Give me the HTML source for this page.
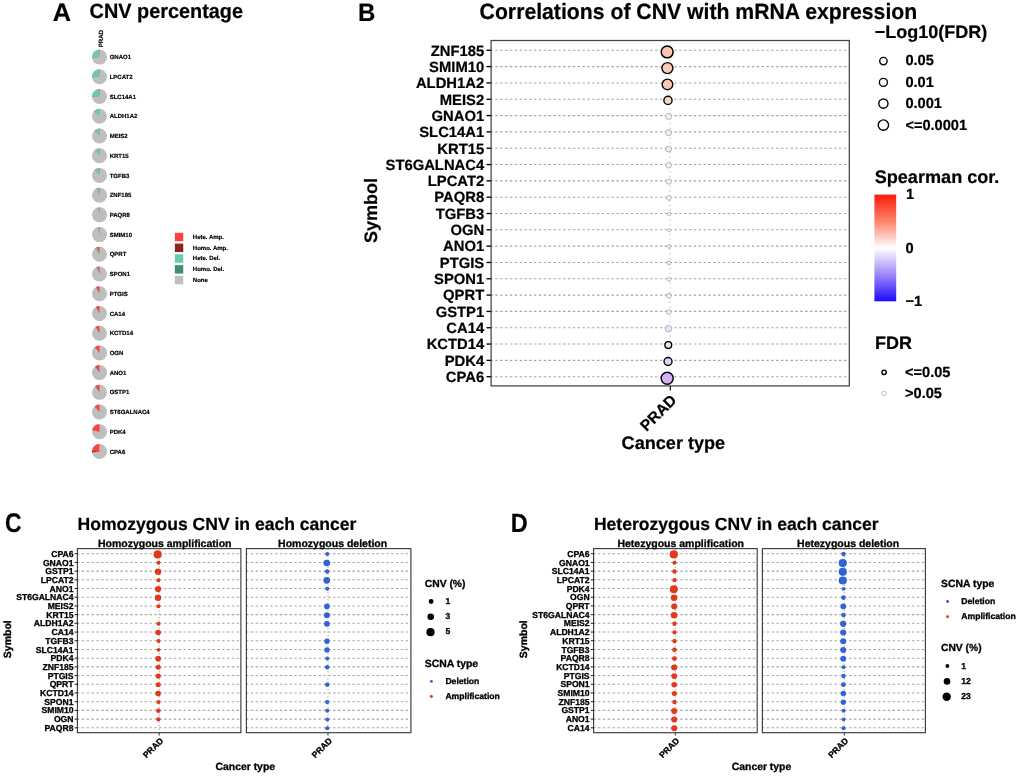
<!DOCTYPE html>
<html><head><meta charset="utf-8"><title>CNV figure</title>
<style>
html,body{margin:0;padding:0;background:#fff;}
body{width:1020px;height:777px;overflow:hidden;}
svg{display:block;font-family:'Liberation Sans', Arial, Helvetica, sans-serif;}
</style></head><body>
<svg width="1020" height="777" viewBox="0 0 1020 777" text-rendering="geometricPrecision" font-family="'Liberation Sans', Arial, Helvetica, sans-serif">
<rect width="1020" height="777" fill="#fff"/>
<text transform="translate(52.7 21.3) scale(1.0 1)" x="0" y="0" font-size="25.3" font-weight="bold" fill="#000" stroke="#000" stroke-width="0.2">A</text>
<text transform="translate(89.6 18.1) scale(0.964 1)" font-size="20.6" text-anchor="start" fill="#000" font-weight="bold" stroke="#000" stroke-width="0.22">CNV percentage</text>
<text x="103.2" y="47.3" font-size="6.1" text-anchor="start" fill="#000" font-weight="bold" transform="rotate(-90 103.2 47.3)" stroke="#000" stroke-width="0.18">PRAD</text>
<circle cx="99.5" cy="57.10" r="7.5" fill="#bebebe"/>
<path d="M99.50,57.10L99.50,49.60A7.5,7.5 0 0 0 98.65,49.65Z" fill="#ff4040"/>
<path d="M99.50,57.10L98.65,49.65A7.5,7.5 0 0 0 92.00,57.01Z" fill="#66cdaa"/>
<path d="M99.50,57.10L92.00,57.01A7.5,7.5 0 0 0 92.01,57.57Z" fill="#458b74"/>
<text x="109.7" y="59.25" font-size="6.0" text-anchor="start" fill="#000" font-weight="bold" stroke="#000" stroke-width="0.18">GNAO1</text>
<circle cx="99.5" cy="76.82" r="7.5" fill="#bebebe"/>
<path d="M99.50,76.82L99.50,69.32A7.5,7.5 0 0 0 98.65,69.37Z" fill="#ff4040"/>
<path d="M99.50,76.82L98.65,69.37A7.5,7.5 0 0 0 92.00,76.63Z" fill="#66cdaa"/>
<path d="M99.50,76.82L92.00,76.63A7.5,7.5 0 0 0 92.01,77.20Z" fill="#458b74"/>
<text x="109.7" y="78.97" font-size="6.0" text-anchor="start" fill="#000" font-weight="bold" stroke="#000" stroke-width="0.18">LPCAT2</text>
<circle cx="99.5" cy="96.54" r="7.5" fill="#bebebe"/>
<path d="M99.50,96.54L99.50,89.04A7.5,7.5 0 0 0 98.56,89.10Z" fill="#ff4040"/>
<path d="M99.50,96.54L98.56,89.10A7.5,7.5 0 0 0 92.01,96.07Z" fill="#66cdaa"/>
<path d="M99.50,96.54L92.01,96.07A7.5,7.5 0 0 0 92.00,96.40Z" fill="#458b74"/>
<text x="109.7" y="98.69" font-size="6.0" text-anchor="start" fill="#000" font-weight="bold" stroke="#000" stroke-width="0.18">SLC14A1</text>
<circle cx="99.5" cy="116.26" r="7.5" fill="#bebebe"/>
<path d="M99.50,116.26L99.50,108.76A7.5,7.5 0 0 0 99.03,108.77Z" fill="#ff4040"/>
<path d="M99.50,116.26L99.03,108.77A7.5,7.5 0 0 0 94.37,110.79Z" fill="#66cdaa"/>
<path d="M99.50,116.26L94.37,110.79A7.5,7.5 0 0 0 94.20,110.96Z" fill="#458b74"/>
<text x="109.7" y="118.41" font-size="6.0" text-anchor="start" fill="#000" font-weight="bold" stroke="#000" stroke-width="0.18">ALDH1A2</text>
<circle cx="99.5" cy="135.98" r="7.5" fill="#bebebe"/>
<path d="M99.50,135.98L99.50,128.48A7.5,7.5 0 0 0 98.94,128.50Z" fill="#ff4040"/>
<path d="M99.50,135.98L98.94,128.50A7.5,7.5 0 0 0 94.47,130.42Z" fill="#66cdaa"/>
<path d="M99.50,135.98L94.47,130.42A7.5,7.5 0 0 0 94.30,130.58Z" fill="#458b74"/>
<text x="109.7" y="138.13" font-size="6.0" text-anchor="start" fill="#000" font-weight="bold" stroke="#000" stroke-width="0.18">MEIS2</text>
<circle cx="99.5" cy="155.70" r="7.5" fill="#bebebe"/>
<path d="M99.50,155.70L99.50,148.20A7.5,7.5 0 0 0 98.79,148.23Z" fill="#ff4040"/>
<path d="M99.50,155.70L98.79,148.23A7.5,7.5 0 0 0 95.09,149.63Z" fill="#66cdaa"/>
<path d="M99.50,155.70L95.09,149.63A7.5,7.5 0 0 0 94.90,149.77Z" fill="#458b74"/>
<text x="109.7" y="157.85" font-size="6.0" text-anchor="start" fill="#000" font-weight="bold" stroke="#000" stroke-width="0.18">KRT15</text>
<circle cx="99.5" cy="175.42" r="7.5" fill="#bebebe"/>
<path d="M99.50,175.42L99.50,167.92A7.5,7.5 0 0 0 98.79,167.95Z" fill="#ff4040"/>
<path d="M99.50,175.42L98.79,167.95A7.5,7.5 0 0 0 95.09,169.35Z" fill="#66cdaa"/>
<path d="M99.50,175.42L95.09,169.35A7.5,7.5 0 0 0 94.94,169.47Z" fill="#458b74"/>
<text x="109.7" y="177.57" font-size="6.0" text-anchor="start" fill="#000" font-weight="bold" stroke="#000" stroke-width="0.18">TGFB3</text>
<circle cx="99.5" cy="195.14" r="7.5" fill="#bebebe"/>
<path d="M99.50,195.14L99.50,187.64A7.5,7.5 0 0 0 98.79,187.67Z" fill="#ff4040"/>
<path d="M99.50,195.14L98.79,187.67A7.5,7.5 0 0 0 96.31,188.35Z" fill="#66cdaa"/>
<path d="M99.50,195.14L96.31,188.35A7.5,7.5 0 0 0 96.18,188.42Z" fill="#458b74"/>
<text x="109.7" y="197.29" font-size="6.0" text-anchor="start" fill="#000" font-weight="bold" stroke="#000" stroke-width="0.18">ZNF185</text>
<circle cx="99.5" cy="214.86" r="7.5" fill="#bebebe"/>
<path d="M99.50,214.86L99.50,207.36A7.5,7.5 0 0 0 98.79,207.39Z" fill="#ff4040"/>
<path d="M99.50,214.86L98.79,207.39A7.5,7.5 0 0 0 97.18,207.73Z" fill="#66cdaa"/>
<text x="109.7" y="217.01" font-size="6.0" text-anchor="start" fill="#000" font-weight="bold" stroke="#000" stroke-width="0.18">PAQR8</text>
<circle cx="99.5" cy="234.58" r="7.5" fill="#bebebe"/>
<path d="M99.50,234.58L99.50,227.08A7.5,7.5 0 0 0 98.56,227.14Z" fill="#ff4040"/>
<path d="M99.50,234.58L98.56,227.14A7.5,7.5 0 0 0 97.18,227.45Z" fill="#66cdaa"/>
<path d="M99.50,234.58L97.18,227.45A7.5,7.5 0 0 0 97.09,227.48Z" fill="#458b74"/>
<text x="109.7" y="236.73" font-size="6.0" text-anchor="start" fill="#000" font-weight="bold" stroke="#000" stroke-width="0.18">SMIM10</text>
<circle cx="99.5" cy="254.30" r="7.5" fill="#bebebe"/>
<path d="M99.50,254.30L99.50,246.80A7.5,7.5 0 0 0 96.74,247.33Z" fill="#ff4040"/>
<path d="M99.50,254.30L96.74,247.33A7.5,7.5 0 0 0 96.61,247.38Z" fill="#8b2323"/>
<path d="M99.50,254.30L96.61,247.38A7.5,7.5 0 0 0 94.79,248.46Z" fill="#66cdaa"/>
<path d="M99.50,254.30L94.79,248.46A7.5,7.5 0 0 0 94.68,248.55Z" fill="#458b74"/>
<text x="109.7" y="256.45" font-size="6.0" text-anchor="start" fill="#000" font-weight="bold" stroke="#000" stroke-width="0.18">QPRT</text>
<circle cx="99.5" cy="274.02" r="7.5" fill="#bebebe"/>
<path d="M99.50,274.02L99.50,266.52A7.5,7.5 0 0 0 97.27,266.86Z" fill="#ff4040"/>
<path d="M99.50,274.02L97.27,266.86A7.5,7.5 0 0 0 97.18,266.89Z" fill="#8b2323"/>
<path d="M99.50,274.02L97.18,266.89A7.5,7.5 0 0 0 96.10,267.34Z" fill="#66cdaa"/>
<path d="M99.50,274.02L96.10,267.34A7.5,7.5 0 0 0 96.01,267.38Z" fill="#458b74"/>
<text x="109.7" y="276.17" font-size="6.0" text-anchor="start" fill="#000" font-weight="bold" stroke="#000" stroke-width="0.18">SPON1</text>
<circle cx="99.5" cy="293.74" r="7.5" fill="#bebebe"/>
<path d="M99.50,293.74L99.50,286.24A7.5,7.5 0 0 0 96.31,286.95Z" fill="#ff4040"/>
<path d="M99.50,293.74L96.31,286.95A7.5,7.5 0 0 0 95.97,287.12Z" fill="#8b2323"/>
<path d="M99.50,293.74L95.97,287.12A7.5,7.5 0 0 0 95.56,287.36Z" fill="#66cdaa"/>
<text x="109.7" y="295.89" font-size="6.0" text-anchor="start" fill="#000" font-weight="bold" stroke="#000" stroke-width="0.18">PTGIS</text>
<circle cx="99.5" cy="313.46" r="7.5" fill="#bebebe"/>
<path d="M99.50,313.46L99.50,305.96A7.5,7.5 0 0 0 96.10,306.78Z" fill="#ff4040"/>
<path d="M99.50,313.46L96.10,306.78A7.5,7.5 0 0 0 95.76,306.96Z" fill="#8b2323"/>
<path d="M99.50,313.46L95.76,306.96A7.5,7.5 0 0 0 95.44,307.15Z" fill="#66cdaa"/>
<text x="109.7" y="315.61" font-size="6.0" text-anchor="start" fill="#000" font-weight="bold" stroke="#000" stroke-width="0.18">CA14</text>
<circle cx="99.5" cy="333.18" r="7.5" fill="#bebebe"/>
<path d="M99.50,333.18L99.50,325.68A7.5,7.5 0 0 0 95.80,326.65Z" fill="#ff4040"/>
<path d="M99.50,333.18L95.80,326.65A7.5,7.5 0 0 0 95.60,326.77Z" fill="#8b2323"/>
<path d="M99.50,333.18L95.60,326.77A7.5,7.5 0 0 0 95.28,326.98Z" fill="#66cdaa"/>
<text x="109.7" y="335.33" font-size="6.0" text-anchor="start" fill="#000" font-weight="bold" stroke="#000" stroke-width="0.18">KCTD14</text>
<circle cx="99.5" cy="352.90" r="7.5" fill="#bebebe"/>
<path d="M99.50,352.90L99.50,345.40A7.5,7.5 0 0 0 94.90,346.97Z" fill="#ff4040"/>
<path d="M99.50,352.90L94.90,346.97A7.5,7.5 0 0 0 94.76,347.09Z" fill="#8b2323"/>
<path d="M99.50,352.90L94.76,347.09A7.5,7.5 0 0 0 94.33,347.47Z" fill="#66cdaa"/>
<text x="109.7" y="355.05" font-size="6.0" text-anchor="start" fill="#000" font-weight="bold" stroke="#000" stroke-width="0.18">OGN</text>
<circle cx="99.5" cy="372.62" r="7.5" fill="#bebebe"/>
<path d="M99.50,372.62L99.50,365.12A7.5,7.5 0 0 0 95.97,366.00Z" fill="#ff4040"/>
<path d="M99.50,372.62L95.97,366.00A7.5,7.5 0 0 0 95.32,366.39Z" fill="#8b2323"/>
<path d="M99.50,372.62L95.32,366.39A7.5,7.5 0 0 0 95.17,366.50Z" fill="#66cdaa"/>
<text x="109.7" y="374.77" font-size="6.0" text-anchor="start" fill="#000" font-weight="bold" stroke="#000" stroke-width="0.18">ANO1</text>
<circle cx="99.5" cy="392.34" r="7.5" fill="#bebebe"/>
<path d="M99.50,392.34L99.50,384.84A7.5,7.5 0 0 0 95.97,385.72Z" fill="#ff4040"/>
<path d="M99.50,392.34L95.97,385.72A7.5,7.5 0 0 0 95.32,386.11Z" fill="#8b2323"/>
<path d="M99.50,392.34L95.32,386.11A7.5,7.5 0 0 0 95.17,386.22Z" fill="#66cdaa"/>
<text x="109.7" y="394.49" font-size="6.0" text-anchor="start" fill="#000" font-weight="bold" stroke="#000" stroke-width="0.18">GSTP1</text>
<circle cx="99.5" cy="412.06" r="7.5" fill="#bebebe"/>
<path d="M99.50,412.06L99.50,404.56A7.5,7.5 0 0 0 95.09,405.99Z" fill="#ff4040"/>
<path d="M99.50,412.06L95.09,405.99A7.5,7.5 0 0 0 94.72,406.28Z" fill="#8b2323"/>
<path d="M99.50,412.06L94.72,406.28A7.5,7.5 0 0 0 94.40,406.56Z" fill="#66cdaa"/>
<text x="109.7" y="414.21" font-size="6.0" text-anchor="start" fill="#000" font-weight="bold" stroke="#000" stroke-width="0.18">ST6GALNAC4</text>
<circle cx="99.5" cy="431.78" r="7.5" fill="#bebebe"/>
<path d="M99.50,431.78L99.50,424.28A7.5,7.5 0 0 0 92.18,430.14Z" fill="#ff4040"/>
<path d="M99.50,431.78L92.18,430.14A7.5,7.5 0 0 0 92.15,430.28Z" fill="#8b2323"/>
<path d="M99.50,431.78L92.15,430.28A7.5,7.5 0 0 0 92.08,430.70Z" fill="#66cdaa"/>
<text x="109.7" y="433.93" font-size="6.0" text-anchor="start" fill="#000" font-weight="bold" stroke="#000" stroke-width="0.18">PDK4</text>
<circle cx="99.5" cy="451.50" r="7.5" fill="#bebebe"/>
<path d="M99.50,451.50L99.50,444.00A7.5,7.5 0 0 0 92.01,451.03Z" fill="#ff4040"/>
<path d="M99.50,451.50L92.01,451.03A7.5,7.5 0 0 0 92.06,452.44Z" fill="#8b2323"/>
<path d="M99.50,451.50L92.06,452.44A7.5,7.5 0 0 0 92.12,452.86Z" fill="#66cdaa"/>
<text x="109.7" y="453.65" font-size="6.0" text-anchor="start" fill="#000" font-weight="bold" stroke="#000" stroke-width="0.18">CPA6</text>
<rect x="174.85" y="232.80" width="8.4" height="8.45" fill="#ff4040"/>
<text x="192.8" y="238.9" font-size="6.0" text-anchor="start" fill="#000" font-weight="bold" stroke="#000" stroke-width="0.18">Hete. Amp.</text>
<rect x="174.85" y="243.57" width="8.4" height="8.45" fill="#8b2323"/>
<text x="192.8" y="249.67" font-size="6.0" text-anchor="start" fill="#000" font-weight="bold" stroke="#000" stroke-width="0.18">Homo. Amp.</text>
<rect x="174.85" y="254.34" width="8.4" height="8.45" fill="#66cdaa"/>
<text x="192.8" y="260.44" font-size="6.0" text-anchor="start" fill="#000" font-weight="bold" stroke="#000" stroke-width="0.18">Hete. Del.</text>
<rect x="174.85" y="265.11" width="8.4" height="8.45" fill="#458b74"/>
<text x="192.8" y="271.21" font-size="6.0" text-anchor="start" fill="#000" font-weight="bold" stroke="#000" stroke-width="0.18">Homo. Del.</text>
<rect x="174.85" y="275.88" width="8.4" height="8.45" fill="#bebebe"/>
<text x="192.8" y="281.98" font-size="6.0" text-anchor="start" fill="#000" font-weight="bold" stroke="#000" stroke-width="0.18">None</text>
<text transform="translate(357.9 20.7) scale(0.955 1)" x="0" y="0" font-size="25.2" font-weight="bold" fill="#000" stroke="#000" stroke-width="0.2">B</text>
<text transform="translate(479.6 19.1) scale(0.96 1)" font-size="22.1" text-anchor="start" fill="#000" font-weight="bold" stroke="#000" stroke-width="0.22">Correlations of CNV with mRNA expression</text>
<rect x="491.1" y="40.5" width="358.19999999999993" height="345.4" fill="#fff" stroke="none"/>
<line x1="670.0" y1="40.5" x2="670.0" y2="385.9" stroke="#a8a8a8" stroke-width="0.9" stroke-dasharray="1.2 3.64"/>
<line x1="490.5" y1="50.30" x2="849.3" y2="50.30" stroke="#a4a4a4" stroke-width="1.1" stroke-dasharray="2.4 2.44"/>
<line x1="486.5" y1="50.30" x2="491.1" y2="50.30" stroke="#000" stroke-width="1.35"/>
<text x="484.2" y="55.6" font-size="14.8" text-anchor="end" fill="#000" font-weight="bold" stroke="#000" stroke-width="0.22">ZNF185</text>
<line x1="490.5" y1="66.62" x2="849.3" y2="66.62" stroke="#a4a4a4" stroke-width="1.1" stroke-dasharray="2.4 2.44"/>
<line x1="486.5" y1="66.62" x2="491.1" y2="66.62" stroke="#000" stroke-width="1.35"/>
<text x="484.2" y="71.92" font-size="14.8" text-anchor="end" fill="#000" font-weight="bold" stroke="#000" stroke-width="0.22">SMIM10</text>
<line x1="490.5" y1="82.94" x2="849.3" y2="82.94" stroke="#a4a4a4" stroke-width="1.1" stroke-dasharray="2.4 2.44"/>
<line x1="486.5" y1="82.94" x2="491.1" y2="82.94" stroke="#000" stroke-width="1.35"/>
<text x="484.2" y="88.24" font-size="14.8" text-anchor="end" fill="#000" font-weight="bold" stroke="#000" stroke-width="0.22">ALDH1A2</text>
<line x1="490.5" y1="99.26" x2="849.3" y2="99.26" stroke="#a4a4a4" stroke-width="1.1" stroke-dasharray="2.4 2.44"/>
<line x1="486.5" y1="99.26" x2="491.1" y2="99.26" stroke="#000" stroke-width="1.35"/>
<text x="484.2" y="104.56" font-size="14.8" text-anchor="end" fill="#000" font-weight="bold" stroke="#000" stroke-width="0.22">MEIS2</text>
<line x1="490.5" y1="115.58" x2="849.3" y2="115.58" stroke="#a4a4a4" stroke-width="1.1" stroke-dasharray="2.4 2.44"/>
<line x1="486.5" y1="115.58" x2="491.1" y2="115.58" stroke="#000" stroke-width="1.35"/>
<text x="484.2" y="120.88" font-size="14.8" text-anchor="end" fill="#000" font-weight="bold" stroke="#000" stroke-width="0.22">GNAO1</text>
<line x1="490.5" y1="131.90" x2="849.3" y2="131.90" stroke="#a4a4a4" stroke-width="1.1" stroke-dasharray="2.4 2.44"/>
<line x1="486.5" y1="131.90" x2="491.1" y2="131.90" stroke="#000" stroke-width="1.35"/>
<text x="484.2" y="137.2" font-size="14.8" text-anchor="end" fill="#000" font-weight="bold" stroke="#000" stroke-width="0.22">SLC14A1</text>
<line x1="490.5" y1="148.22" x2="849.3" y2="148.22" stroke="#a4a4a4" stroke-width="1.1" stroke-dasharray="2.4 2.44"/>
<line x1="486.5" y1="148.22" x2="491.1" y2="148.22" stroke="#000" stroke-width="1.35"/>
<text x="484.2" y="153.52" font-size="14.8" text-anchor="end" fill="#000" font-weight="bold" stroke="#000" stroke-width="0.22">KRT15</text>
<line x1="490.5" y1="164.54" x2="849.3" y2="164.54" stroke="#a4a4a4" stroke-width="1.1" stroke-dasharray="2.4 2.44"/>
<line x1="486.5" y1="164.54" x2="491.1" y2="164.54" stroke="#000" stroke-width="1.35"/>
<text x="484.2" y="169.84" font-size="14.8" text-anchor="end" fill="#000" font-weight="bold" stroke="#000" stroke-width="0.22">ST6GALNAC4</text>
<line x1="490.5" y1="180.86" x2="849.3" y2="180.86" stroke="#a4a4a4" stroke-width="1.1" stroke-dasharray="2.4 2.44"/>
<line x1="486.5" y1="180.86" x2="491.1" y2="180.86" stroke="#000" stroke-width="1.35"/>
<text x="484.2" y="186.16" font-size="14.8" text-anchor="end" fill="#000" font-weight="bold" stroke="#000" stroke-width="0.22">LPCAT2</text>
<line x1="490.5" y1="197.18" x2="849.3" y2="197.18" stroke="#a4a4a4" stroke-width="1.1" stroke-dasharray="2.4 2.44"/>
<line x1="486.5" y1="197.18" x2="491.1" y2="197.18" stroke="#000" stroke-width="1.35"/>
<text x="484.2" y="202.48" font-size="14.8" text-anchor="end" fill="#000" font-weight="bold" stroke="#000" stroke-width="0.22">PAQR8</text>
<line x1="490.5" y1="213.50" x2="849.3" y2="213.50" stroke="#a4a4a4" stroke-width="1.1" stroke-dasharray="2.4 2.44"/>
<line x1="486.5" y1="213.50" x2="491.1" y2="213.50" stroke="#000" stroke-width="1.35"/>
<text x="484.2" y="218.8" font-size="14.8" text-anchor="end" fill="#000" font-weight="bold" stroke="#000" stroke-width="0.22">TGFB3</text>
<line x1="490.5" y1="229.82" x2="849.3" y2="229.82" stroke="#a4a4a4" stroke-width="1.1" stroke-dasharray="2.4 2.44"/>
<line x1="486.5" y1="229.82" x2="491.1" y2="229.82" stroke="#000" stroke-width="1.35"/>
<text x="484.2" y="235.12" font-size="14.8" text-anchor="end" fill="#000" font-weight="bold" stroke="#000" stroke-width="0.22">OGN</text>
<line x1="490.5" y1="246.14" x2="849.3" y2="246.14" stroke="#a4a4a4" stroke-width="1.1" stroke-dasharray="2.4 2.44"/>
<line x1="486.5" y1="246.14" x2="491.1" y2="246.14" stroke="#000" stroke-width="1.35"/>
<text x="484.2" y="251.44" font-size="14.8" text-anchor="end" fill="#000" font-weight="bold" stroke="#000" stroke-width="0.22">ANO1</text>
<line x1="490.5" y1="262.46" x2="849.3" y2="262.46" stroke="#a4a4a4" stroke-width="1.1" stroke-dasharray="2.4 2.44"/>
<line x1="486.5" y1="262.46" x2="491.1" y2="262.46" stroke="#000" stroke-width="1.35"/>
<text x="484.2" y="267.76" font-size="14.8" text-anchor="end" fill="#000" font-weight="bold" stroke="#000" stroke-width="0.22">PTGIS</text>
<line x1="490.5" y1="278.78" x2="849.3" y2="278.78" stroke="#a4a4a4" stroke-width="1.1" stroke-dasharray="2.4 2.44"/>
<line x1="486.5" y1="278.78" x2="491.1" y2="278.78" stroke="#000" stroke-width="1.35"/>
<text x="484.2" y="284.08" font-size="14.8" text-anchor="end" fill="#000" font-weight="bold" stroke="#000" stroke-width="0.22">SPON1</text>
<line x1="490.5" y1="295.10" x2="849.3" y2="295.10" stroke="#a4a4a4" stroke-width="1.1" stroke-dasharray="2.4 2.44"/>
<line x1="486.5" y1="295.10" x2="491.1" y2="295.10" stroke="#000" stroke-width="1.35"/>
<text x="484.2" y="300.4" font-size="14.8" text-anchor="end" fill="#000" font-weight="bold" stroke="#000" stroke-width="0.22">QPRT</text>
<line x1="490.5" y1="311.42" x2="849.3" y2="311.42" stroke="#a4a4a4" stroke-width="1.1" stroke-dasharray="2.4 2.44"/>
<line x1="486.5" y1="311.42" x2="491.1" y2="311.42" stroke="#000" stroke-width="1.35"/>
<text x="484.2" y="316.72" font-size="14.8" text-anchor="end" fill="#000" font-weight="bold" stroke="#000" stroke-width="0.22">GSTP1</text>
<line x1="490.5" y1="327.74" x2="849.3" y2="327.74" stroke="#a4a4a4" stroke-width="1.1" stroke-dasharray="2.4 2.44"/>
<line x1="486.5" y1="327.74" x2="491.1" y2="327.74" stroke="#000" stroke-width="1.35"/>
<text x="484.2" y="333.04" font-size="14.8" text-anchor="end" fill="#000" font-weight="bold" stroke="#000" stroke-width="0.22">CA14</text>
<line x1="490.5" y1="344.06" x2="849.3" y2="344.06" stroke="#a4a4a4" stroke-width="1.1" stroke-dasharray="2.4 2.44"/>
<line x1="486.5" y1="344.06" x2="491.1" y2="344.06" stroke="#000" stroke-width="1.35"/>
<text x="484.2" y="349.36" font-size="14.8" text-anchor="end" fill="#000" font-weight="bold" stroke="#000" stroke-width="0.22">KCTD14</text>
<line x1="490.5" y1="360.38" x2="849.3" y2="360.38" stroke="#a4a4a4" stroke-width="1.1" stroke-dasharray="2.4 2.44"/>
<line x1="486.5" y1="360.38" x2="491.1" y2="360.38" stroke="#000" stroke-width="1.35"/>
<text x="484.2" y="365.68" font-size="14.8" text-anchor="end" fill="#000" font-weight="bold" stroke="#000" stroke-width="0.22">PDK4</text>
<line x1="490.5" y1="376.70" x2="849.3" y2="376.70" stroke="#a4a4a4" stroke-width="1.1" stroke-dasharray="2.4 2.44"/>
<line x1="486.5" y1="376.70" x2="491.1" y2="376.70" stroke="#000" stroke-width="1.35"/>
<text x="484.2" y="382.0" font-size="14.8" text-anchor="end" fill="#000" font-weight="bold" stroke="#000" stroke-width="0.22">CPA6</text>
<rect x="491.1" y="40.5" width="358.19999999999993" height="345.4" fill="none" stroke="#444" stroke-width="1.25"/>
<line x1="670.3" y1="385.9" x2="670.3" y2="390.5" stroke="#111" stroke-width="1.2"/>
<circle cx="667.19" cy="51.91" r="5.95" fill="#fcc5b3" stroke="#000" stroke-width="1.5"/>
<circle cx="667.40" cy="68.11" r="5.5" fill="#fcc9b8" stroke="#000" stroke-width="1.4"/>
<circle cx="667.48" cy="84.38" r="5.3" fill="#fcc7b6" stroke="#000" stroke-width="1.4"/>
<circle cx="667.98" cy="100.41" r="4.1" fill="#fdd5c8" stroke="#000" stroke-width="1.4"/>
<circle cx="668.55" cy="116.41" r="3.0" fill="#fdeee9" stroke="#adadad" stroke-width="0.9"/>
<circle cx="668.55" cy="132.73" r="3.0" fill="#fdece6" stroke="#adadad" stroke-width="0.9"/>
<circle cx="668.59" cy="149.02" r="2.9" fill="#fdeae3" stroke="#adadad" stroke-width="0.9"/>
<circle cx="668.68" cy="165.30" r="2.7" fill="#fdf1ed" stroke="#adadad" stroke-width="0.9"/>
<circle cx="668.72" cy="181.59" r="2.6" fill="#fbf3f1" stroke="#adadad" stroke-width="0.9"/>
<circle cx="668.80" cy="197.86" r="2.4" fill="#fdf8f4" stroke="#adadad" stroke-width="0.9"/>
<circle cx="669.05" cy="214.04" r="1.8" fill="#ffffff" stroke="#adadad" stroke-width="0.9"/>
<circle cx="669.14" cy="230.31" r="1.6" fill="#ffffff" stroke="#adadad" stroke-width="0.9"/>
<circle cx="669.14" cy="246.63" r="1.6" fill="#ffffff" stroke="#adadad" stroke-width="0.9"/>
<circle cx="669.01" cy="263.02" r="1.9" fill="#fbf9fd" stroke="#adadad" stroke-width="0.9"/>
<circle cx="669.01" cy="279.34" r="1.9" fill="#fbf9fd" stroke="#adadad" stroke-width="0.9"/>
<circle cx="668.85" cy="295.76" r="2.3" fill="#f8f4fd" stroke="#adadad" stroke-width="0.9"/>
<circle cx="668.85" cy="312.08" r="2.3" fill="#f7f2fd" stroke="#adadad" stroke-width="0.9"/>
<circle cx="668.42" cy="328.64" r="3.3" fill="#ebe0fa" stroke="#adadad" stroke-width="0.9"/>
<circle cx="668.28" cy="345.04" r="3.4" fill="#efe3fc" stroke="#000" stroke-width="1.4"/>
<circle cx="668.03" cy="361.51" r="4.0" fill="#e4cffa" stroke="#000" stroke-width="1.4"/>
<circle cx="667.19" cy="378.31" r="6.0" fill="#d3b0f8" stroke="#000" stroke-width="1.4"/>
<text x="377.3" y="210.6" font-size="18" text-anchor="middle" fill="#000" font-weight="bold" transform="rotate(-90 377.3 210.6)" stroke="#000" stroke-width="0.22">Symbol</text>
<text x="677.5" y="401.0" font-size="15.5" text-anchor="end" fill="#000" font-weight="bold" transform="rotate(-45 677.5 401.0)" stroke="#000" stroke-width="0.22">PRAD</text>
<text x="673.4" y="449.0" font-size="18.1" text-anchor="middle" fill="#000" font-weight="bold" stroke="#000" stroke-width="0.22">Cancer type</text>
<text x="874.7" y="38.0" font-size="18" text-anchor="start" fill="#000" font-weight="bold" stroke="#000" stroke-width="0.22">−Log10(FDR)</text>
<circle cx="883.4" cy="61.1" r="3.7" fill="#fff" stroke="#000" stroke-width="1.4"/>
<text x="905.4" y="65.0" font-size="14.6" text-anchor="start" fill="#000" font-weight="bold" stroke="#000" stroke-width="0.22">0.05</text>
<circle cx="883.4" cy="82.4" r="4.0" fill="#fff" stroke="#000" stroke-width="1.4"/>
<text x="905.4" y="86.7" font-size="14.6" text-anchor="start" fill="#000" font-weight="bold" stroke="#000" stroke-width="0.22">0.01</text>
<circle cx="883.4" cy="103.6" r="4.6" fill="#fff" stroke="#000" stroke-width="1.4"/>
<text x="905.4" y="108.2" font-size="14.6" text-anchor="start" fill="#000" font-weight="bold" stroke="#000" stroke-width="0.22">0.001</text>
<circle cx="883.4" cy="125.1" r="5.2" fill="#fff" stroke="#000" stroke-width="1.4"/>
<text x="905.4" y="129.5" font-size="14.6" text-anchor="start" fill="#000" font-weight="bold" stroke="#000" stroke-width="0.22">&lt;=0.0001</text>
<text x="874.7" y="182.8" font-size="18.1" text-anchor="start" fill="#000" font-weight="bold" stroke="#000" stroke-width="0.22">Spearman cor.</text>
<defs><linearGradient id="gb" x1="0" y1="0" x2="0" y2="1"><stop offset="0" stop-color="#ff1a0a"/><stop offset="0.25" stop-color="#fc836a"/><stop offset="0.5" stop-color="#ffffff"/><stop offset="0.75" stop-color="#a087f6"/><stop offset="1" stop-color="#1a0aff"/></linearGradient></defs>
<rect x="874.4" y="194.6" width="21.8" height="106.7" fill="url(#gb)"/>
<text x="906.0" y="199.2" font-size="14.6" text-anchor="start" fill="#000" font-weight="bold" stroke="#000" stroke-width="0.22">1</text>
<text x="905.4" y="253.1" font-size="14.6" text-anchor="start" fill="#000" font-weight="bold" stroke="#000" stroke-width="0.22">0</text>
<text x="905.6" y="306.3" font-size="14.6" text-anchor="start" fill="#000" font-weight="bold" stroke="#000" stroke-width="0.22">−1</text>
<text x="875.0" y="349.4" font-size="18" text-anchor="start" fill="#000" font-weight="bold" stroke="#000" stroke-width="0.22">FDR</text>
<circle cx="884.1" cy="372.3" r="2.2" fill="#fff" stroke="#000" stroke-width="1.4"/>
<circle cx="884.1" cy="393.5" r="2.3" fill="#fff" stroke="#b9b9b9" stroke-width="0.9"/>
<text x="905.0" y="376.8" font-size="14.6" text-anchor="start" fill="#000" font-weight="bold" stroke="#000" stroke-width="0.22">&lt;=0.05</text>
<text x="905.0" y="397.9" font-size="14.6" text-anchor="start" fill="#000" font-weight="bold" stroke="#000" stroke-width="0.22">&gt;0.05</text>
<text transform="translate(5.0 531.5) scale(0.85 1)" x="0" y="0" font-size="27.0" font-weight="bold" fill="#000" stroke="#000" stroke-width="0.2">C</text>
<text x="77.5" y="530.3" font-size="17.56" text-anchor="start" fill="#000" font-weight="bold" stroke="#000" stroke-width="0.22">Homozygous CNV in each cancer</text>
<rect x="77.4" y="548.6" width="163.5" height="184.10000000000002" fill="#fff"/>
<line x1="159.2" y1="548.6" x2="159.2" y2="732.7" stroke="#a0a0a0" stroke-width="0.9" stroke-dasharray="1.4 2.2"/>
<line x1="76.9" y1="553.70" x2="240.9" y2="553.70" stroke="#a8a8a8" stroke-width="1.05" stroke-dasharray="2.5 2.34"/>
<line x1="76.9" y1="562.41" x2="240.9" y2="562.41" stroke="#a8a8a8" stroke-width="1.05" stroke-dasharray="2.5 2.34"/>
<line x1="76.9" y1="571.11" x2="240.9" y2="571.11" stroke="#a8a8a8" stroke-width="1.05" stroke-dasharray="2.5 2.34"/>
<line x1="76.9" y1="579.82" x2="240.9" y2="579.82" stroke="#a8a8a8" stroke-width="1.05" stroke-dasharray="2.5 2.34"/>
<line x1="76.9" y1="588.52" x2="240.9" y2="588.52" stroke="#a8a8a8" stroke-width="1.05" stroke-dasharray="2.5 2.34"/>
<line x1="76.9" y1="597.23" x2="240.9" y2="597.23" stroke="#a8a8a8" stroke-width="1.05" stroke-dasharray="2.5 2.34"/>
<line x1="76.9" y1="605.93" x2="240.9" y2="605.93" stroke="#a8a8a8" stroke-width="1.05" stroke-dasharray="2.5 2.34"/>
<line x1="76.9" y1="614.63" x2="240.9" y2="614.63" stroke="#a8a8a8" stroke-width="1.05" stroke-dasharray="2.5 2.34"/>
<line x1="76.9" y1="623.34" x2="240.9" y2="623.34" stroke="#a8a8a8" stroke-width="1.05" stroke-dasharray="2.5 2.34"/>
<line x1="76.9" y1="632.05" x2="240.9" y2="632.05" stroke="#a8a8a8" stroke-width="1.05" stroke-dasharray="2.5 2.34"/>
<line x1="76.9" y1="640.75" x2="240.9" y2="640.75" stroke="#a8a8a8" stroke-width="1.05" stroke-dasharray="2.5 2.34"/>
<line x1="76.9" y1="649.46" x2="240.9" y2="649.46" stroke="#a8a8a8" stroke-width="1.05" stroke-dasharray="2.5 2.34"/>
<line x1="76.9" y1="658.16" x2="240.9" y2="658.16" stroke="#a8a8a8" stroke-width="1.05" stroke-dasharray="2.5 2.34"/>
<line x1="76.9" y1="666.87" x2="240.9" y2="666.87" stroke="#a8a8a8" stroke-width="1.05" stroke-dasharray="2.5 2.34"/>
<line x1="76.9" y1="675.57" x2="240.9" y2="675.57" stroke="#a8a8a8" stroke-width="1.05" stroke-dasharray="2.5 2.34"/>
<line x1="76.9" y1="684.28" x2="240.9" y2="684.28" stroke="#a8a8a8" stroke-width="1.05" stroke-dasharray="2.5 2.34"/>
<line x1="76.9" y1="692.98" x2="240.9" y2="692.98" stroke="#a8a8a8" stroke-width="1.05" stroke-dasharray="2.5 2.34"/>
<line x1="76.9" y1="701.69" x2="240.9" y2="701.69" stroke="#a8a8a8" stroke-width="1.05" stroke-dasharray="2.5 2.34"/>
<line x1="76.9" y1="710.39" x2="240.9" y2="710.39" stroke="#a8a8a8" stroke-width="1.05" stroke-dasharray="2.5 2.34"/>
<line x1="76.9" y1="719.10" x2="240.9" y2="719.10" stroke="#a8a8a8" stroke-width="1.05" stroke-dasharray="2.5 2.34"/>
<line x1="76.9" y1="727.80" x2="240.9" y2="727.80" stroke="#a8a8a8" stroke-width="1.05" stroke-dasharray="2.5 2.34"/>
<rect x="77.4" y="548.6" width="163.5" height="184.10000000000002" fill="none" stroke="#3c3c3c" stroke-width="1.15"/>
<line x1="159.2" y1="732.7" x2="159.2" y2="735.6" stroke="#222" stroke-width="0.9"/>
<circle cx="157.68" cy="554.40" r="4.1" fill="#e0391b"/>
<circle cx="158.46" cy="562.75" r="2.0" fill="#e0391b"/>
<circle cx="158.02" cy="571.65" r="3.2" fill="#e0391b"/>
<circle cx="158.46" cy="580.16" r="2.0" fill="#e0391b"/>
<circle cx="158.05" cy="589.05" r="3.1" fill="#e0391b"/>
<circle cx="158.02" cy="597.77" r="3.2" fill="#e0391b"/>
<circle cx="158.46" cy="606.27" r="2.0" fill="#e0391b"/>
<circle cx="158.46" cy="623.68" r="2.0" fill="#e0391b"/>
<circle cx="158.16" cy="632.52" r="2.8" fill="#e0391b"/>
<circle cx="158.46" cy="641.09" r="2.0" fill="#e0391b"/>
<circle cx="158.50" cy="649.78" r="1.9" fill="#e0391b"/>
<circle cx="158.16" cy="658.64" r="2.8" fill="#e0391b"/>
<circle cx="158.27" cy="667.29" r="2.5" fill="#e0391b"/>
<circle cx="158.24" cy="676.01" r="2.6" fill="#e0391b"/>
<circle cx="158.27" cy="684.70" r="2.5" fill="#e0391b"/>
<circle cx="158.16" cy="693.46" r="2.8" fill="#e0391b"/>
<circle cx="158.42" cy="702.04" r="2.1" fill="#e0391b"/>
<circle cx="158.35" cy="710.78" r="2.3" fill="#e0391b"/>
<circle cx="158.42" cy="719.45" r="2.1" fill="#e0391b"/>
<text x="97.9" y="546.6" font-size="10.5" text-anchor="start" fill="#000" font-weight="bold" stroke="#000" stroke-width="0.3">Homozygous amplification</text>
<text x="163.79999999999998" y="741.3" font-size="8.6" text-anchor="end" fill="#000" font-weight="bold" transform="rotate(-45 163.79999999999998 741.3)" stroke="#000" stroke-width="0.3">PRAD</text>
<rect x="246.4" y="548.6" width="164.49999999999997" height="184.10000000000002" fill="#fff"/>
<line x1="328.0" y1="548.6" x2="328.0" y2="732.7" stroke="#a0a0a0" stroke-width="0.9" stroke-dasharray="1.4 2.2"/>
<line x1="245.9" y1="553.70" x2="410.9" y2="553.70" stroke="#a8a8a8" stroke-width="1.05" stroke-dasharray="2.5 2.34"/>
<line x1="245.9" y1="562.41" x2="410.9" y2="562.41" stroke="#a8a8a8" stroke-width="1.05" stroke-dasharray="2.5 2.34"/>
<line x1="245.9" y1="571.11" x2="410.9" y2="571.11" stroke="#a8a8a8" stroke-width="1.05" stroke-dasharray="2.5 2.34"/>
<line x1="245.9" y1="579.82" x2="410.9" y2="579.82" stroke="#a8a8a8" stroke-width="1.05" stroke-dasharray="2.5 2.34"/>
<line x1="245.9" y1="588.52" x2="410.9" y2="588.52" stroke="#a8a8a8" stroke-width="1.05" stroke-dasharray="2.5 2.34"/>
<line x1="245.9" y1="597.23" x2="410.9" y2="597.23" stroke="#a8a8a8" stroke-width="1.05" stroke-dasharray="2.5 2.34"/>
<line x1="245.9" y1="605.93" x2="410.9" y2="605.93" stroke="#a8a8a8" stroke-width="1.05" stroke-dasharray="2.5 2.34"/>
<line x1="245.9" y1="614.63" x2="410.9" y2="614.63" stroke="#a8a8a8" stroke-width="1.05" stroke-dasharray="2.5 2.34"/>
<line x1="245.9" y1="623.34" x2="410.9" y2="623.34" stroke="#a8a8a8" stroke-width="1.05" stroke-dasharray="2.5 2.34"/>
<line x1="245.9" y1="632.05" x2="410.9" y2="632.05" stroke="#a8a8a8" stroke-width="1.05" stroke-dasharray="2.5 2.34"/>
<line x1="245.9" y1="640.75" x2="410.9" y2="640.75" stroke="#a8a8a8" stroke-width="1.05" stroke-dasharray="2.5 2.34"/>
<line x1="245.9" y1="649.46" x2="410.9" y2="649.46" stroke="#a8a8a8" stroke-width="1.05" stroke-dasharray="2.5 2.34"/>
<line x1="245.9" y1="658.16" x2="410.9" y2="658.16" stroke="#a8a8a8" stroke-width="1.05" stroke-dasharray="2.5 2.34"/>
<line x1="245.9" y1="666.87" x2="410.9" y2="666.87" stroke="#a8a8a8" stroke-width="1.05" stroke-dasharray="2.5 2.34"/>
<line x1="245.9" y1="675.57" x2="410.9" y2="675.57" stroke="#a8a8a8" stroke-width="1.05" stroke-dasharray="2.5 2.34"/>
<line x1="245.9" y1="684.28" x2="410.9" y2="684.28" stroke="#a8a8a8" stroke-width="1.05" stroke-dasharray="2.5 2.34"/>
<line x1="245.9" y1="692.98" x2="410.9" y2="692.98" stroke="#a8a8a8" stroke-width="1.05" stroke-dasharray="2.5 2.34"/>
<line x1="245.9" y1="701.69" x2="410.9" y2="701.69" stroke="#a8a8a8" stroke-width="1.05" stroke-dasharray="2.5 2.34"/>
<line x1="245.9" y1="710.39" x2="410.9" y2="710.39" stroke="#a8a8a8" stroke-width="1.05" stroke-dasharray="2.5 2.34"/>
<line x1="245.9" y1="719.10" x2="410.9" y2="719.10" stroke="#a8a8a8" stroke-width="1.05" stroke-dasharray="2.5 2.34"/>
<line x1="245.9" y1="727.80" x2="410.9" y2="727.80" stroke="#a8a8a8" stroke-width="1.05" stroke-dasharray="2.5 2.34"/>
<rect x="246.4" y="548.6" width="164.49999999999997" height="184.10000000000002" fill="none" stroke="#3c3c3c" stroke-width="1.15"/>
<line x1="328.0" y1="732.7" x2="328.0" y2="735.6" stroke="#222" stroke-width="0.9"/>
<circle cx="327.26" cy="554.04" r="2.0" fill="#2f63d6"/>
<circle cx="326.78" cy="562.97" r="3.3" fill="#2f63d6"/>
<circle cx="327.19" cy="571.48" r="2.2" fill="#2f63d6"/>
<circle cx="326.78" cy="580.38" r="3.3" fill="#2f63d6"/>
<circle cx="327.26" cy="588.86" r="2.0" fill="#2f63d6"/>
<circle cx="326.96" cy="606.41" r="2.8" fill="#2f63d6"/>
<circle cx="326.89" cy="615.14" r="3.0" fill="#2f63d6"/>
<circle cx="326.93" cy="623.83" r="2.9" fill="#2f63d6"/>
<circle cx="327.00" cy="641.21" r="2.7" fill="#2f63d6"/>
<circle cx="327.00" cy="649.91" r="2.7" fill="#2f63d6"/>
<circle cx="327.26" cy="658.50" r="2.0" fill="#2f63d6"/>
<circle cx="327.19" cy="667.24" r="2.2" fill="#2f63d6"/>
<circle cx="327.19" cy="684.65" r="2.2" fill="#2f63d6"/>
<circle cx="327.22" cy="702.04" r="2.1" fill="#2f63d6"/>
<circle cx="327.26" cy="710.73" r="2.0" fill="#2f63d6"/>
<circle cx="327.26" cy="719.44" r="2.0" fill="#2f63d6"/>
<circle cx="327.26" cy="728.14" r="2.0" fill="#2f63d6"/>
<text x="278.1" y="546.6" font-size="10.5" text-anchor="start" fill="#000" font-weight="bold" stroke="#000" stroke-width="0.3">Homozygous deletion</text>
<text x="332.6" y="741.3" font-size="8.6" text-anchor="end" fill="#000" font-weight="bold" transform="rotate(-45 332.6 741.3)" stroke="#000" stroke-width="0.3">PRAD</text>
<line x1="74.60000000000001" y1="553.70" x2="77.4" y2="553.70" stroke="#111" stroke-width="0.95"/>
<text x="73.5" y="556.8" font-size="8.6" text-anchor="end" fill="#000" font-weight="bold" stroke="#000" stroke-width="0.3">CPA6</text>
<line x1="74.60000000000001" y1="562.41" x2="77.4" y2="562.41" stroke="#111" stroke-width="0.95"/>
<text x="73.5" y="565.51" font-size="8.6" text-anchor="end" fill="#000" font-weight="bold" stroke="#000" stroke-width="0.3">GNAO1</text>
<line x1="74.60000000000001" y1="571.11" x2="77.4" y2="571.11" stroke="#111" stroke-width="0.95"/>
<text x="73.5" y="574.21" font-size="8.6" text-anchor="end" fill="#000" font-weight="bold" stroke="#000" stroke-width="0.3">GSTP1</text>
<line x1="74.60000000000001" y1="579.82" x2="77.4" y2="579.82" stroke="#111" stroke-width="0.95"/>
<text x="73.5" y="582.92" font-size="8.6" text-anchor="end" fill="#000" font-weight="bold" stroke="#000" stroke-width="0.3">LPCAT2</text>
<line x1="74.60000000000001" y1="588.52" x2="77.4" y2="588.52" stroke="#111" stroke-width="0.95"/>
<text x="73.5" y="591.62" font-size="8.6" text-anchor="end" fill="#000" font-weight="bold" stroke="#000" stroke-width="0.3">ANO1</text>
<line x1="74.60000000000001" y1="597.23" x2="77.4" y2="597.23" stroke="#111" stroke-width="0.95"/>
<text x="73.5" y="600.33" font-size="8.6" text-anchor="end" fill="#000" font-weight="bold" stroke="#000" stroke-width="0.3">ST6GALNAC4</text>
<line x1="74.60000000000001" y1="605.93" x2="77.4" y2="605.93" stroke="#111" stroke-width="0.95"/>
<text x="73.5" y="609.03" font-size="8.6" text-anchor="end" fill="#000" font-weight="bold" stroke="#000" stroke-width="0.3">MEIS2</text>
<line x1="74.60000000000001" y1="614.63" x2="77.4" y2="614.63" stroke="#111" stroke-width="0.95"/>
<text x="73.5" y="617.74" font-size="8.6" text-anchor="end" fill="#000" font-weight="bold" stroke="#000" stroke-width="0.3">KRT15</text>
<line x1="74.60000000000001" y1="623.34" x2="77.4" y2="623.34" stroke="#111" stroke-width="0.95"/>
<text x="73.5" y="626.44" font-size="8.6" text-anchor="end" fill="#000" font-weight="bold" stroke="#000" stroke-width="0.3">ALDH1A2</text>
<line x1="74.60000000000001" y1="632.05" x2="77.4" y2="632.05" stroke="#111" stroke-width="0.95"/>
<text x="73.5" y="635.15" font-size="8.6" text-anchor="end" fill="#000" font-weight="bold" stroke="#000" stroke-width="0.3">CA14</text>
<line x1="74.60000000000001" y1="640.75" x2="77.4" y2="640.75" stroke="#111" stroke-width="0.95"/>
<text x="73.5" y="643.85" font-size="8.6" text-anchor="end" fill="#000" font-weight="bold" stroke="#000" stroke-width="0.3">TGFB3</text>
<line x1="74.60000000000001" y1="649.46" x2="77.4" y2="649.46" stroke="#111" stroke-width="0.95"/>
<text x="73.5" y="652.56" font-size="8.6" text-anchor="end" fill="#000" font-weight="bold" stroke="#000" stroke-width="0.3">SLC14A1</text>
<line x1="74.60000000000001" y1="658.16" x2="77.4" y2="658.16" stroke="#111" stroke-width="0.95"/>
<text x="73.5" y="661.26" font-size="8.6" text-anchor="end" fill="#000" font-weight="bold" stroke="#000" stroke-width="0.3">PDK4</text>
<line x1="74.60000000000001" y1="666.87" x2="77.4" y2="666.87" stroke="#111" stroke-width="0.95"/>
<text x="73.5" y="669.97" font-size="8.6" text-anchor="end" fill="#000" font-weight="bold" stroke="#000" stroke-width="0.3">ZNF185</text>
<line x1="74.60000000000001" y1="675.57" x2="77.4" y2="675.57" stroke="#111" stroke-width="0.95"/>
<text x="73.5" y="678.67" font-size="8.6" text-anchor="end" fill="#000" font-weight="bold" stroke="#000" stroke-width="0.3">PTGIS</text>
<line x1="74.60000000000001" y1="684.28" x2="77.4" y2="684.28" stroke="#111" stroke-width="0.95"/>
<text x="73.5" y="687.38" font-size="8.6" text-anchor="end" fill="#000" font-weight="bold" stroke="#000" stroke-width="0.3">QPRT</text>
<line x1="74.60000000000001" y1="692.98" x2="77.4" y2="692.98" stroke="#111" stroke-width="0.95"/>
<text x="73.5" y="696.08" font-size="8.6" text-anchor="end" fill="#000" font-weight="bold" stroke="#000" stroke-width="0.3">KCTD14</text>
<line x1="74.60000000000001" y1="701.69" x2="77.4" y2="701.69" stroke="#111" stroke-width="0.95"/>
<text x="73.5" y="704.79" font-size="8.6" text-anchor="end" fill="#000" font-weight="bold" stroke="#000" stroke-width="0.3">SPON1</text>
<line x1="74.60000000000001" y1="710.39" x2="77.4" y2="710.39" stroke="#111" stroke-width="0.95"/>
<text x="73.5" y="713.49" font-size="8.6" text-anchor="end" fill="#000" font-weight="bold" stroke="#000" stroke-width="0.3">SMIM10</text>
<line x1="74.60000000000001" y1="719.10" x2="77.4" y2="719.10" stroke="#111" stroke-width="0.95"/>
<text x="73.5" y="722.2" font-size="8.6" text-anchor="end" fill="#000" font-weight="bold" stroke="#000" stroke-width="0.3">OGN</text>
<line x1="74.60000000000001" y1="727.80" x2="77.4" y2="727.80" stroke="#111" stroke-width="0.95"/>
<text x="73.5" y="730.9" font-size="8.6" text-anchor="end" fill="#000" font-weight="bold" stroke="#000" stroke-width="0.3">PAQR8</text>
<text x="10.8" y="639.2" font-size="10.5" text-anchor="middle" fill="#000" font-weight="bold" transform="rotate(-90 10.8 639.2)" stroke="#000" stroke-width="0.3">Symbol</text>
<text x="245.3" y="770.3" font-size="10.4" text-anchor="middle" fill="#000" font-weight="bold" stroke="#000" stroke-width="0.3">Cancer type</text>
<text x="424.8" y="587.1" font-size="10.3" text-anchor="start" fill="#000" font-weight="bold" stroke="#000" stroke-width="0.3">CNV (%)</text>
<circle cx="431.1" cy="601.5" r="2.4" fill="#000"/>
<text x="445.4" y="604.2" font-size="8.6" text-anchor="start" fill="#000" font-weight="bold" stroke="#000" stroke-width="0.3">1</text>
<circle cx="430.7" cy="616.8" r="3.3" fill="#000"/>
<text x="445.4" y="619.0" font-size="8.6" text-anchor="start" fill="#000" font-weight="bold" stroke="#000" stroke-width="0.3">3</text>
<circle cx="430.5" cy="632.2" r="4.1" fill="#000"/>
<text x="445.4" y="634.3" font-size="8.6" text-anchor="start" fill="#000" font-weight="bold" stroke="#000" stroke-width="0.3">5</text>
<text x="424.8" y="666.8" font-size="10.4" text-anchor="start" fill="#000" font-weight="bold" stroke="#000" stroke-width="0.3">SCNA type</text>
<circle cx="431.4" cy="681.4" r="1.45" fill="#2f63d6"/>
<circle cx="431.4" cy="696.5" r="1.45" fill="#e0391b"/>
<text x="445.4" y="683.9" font-size="8.6" text-anchor="start" fill="#000" font-weight="bold" stroke="#000" stroke-width="0.3">Deletion</text>
<text x="445.4" y="699.0" font-size="8.6" text-anchor="start" fill="#000" font-weight="bold" stroke="#000" stroke-width="0.3">Amplification</text>
<text transform="translate(510.8 531.5) scale(0.895 1)" x="0" y="0" font-size="26.3" font-weight="bold" fill="#000" stroke="#000" stroke-width="0.2">D</text>
<text x="593.9" y="530.3" font-size="17.56" text-anchor="start" fill="#000" font-weight="bold" stroke="#000" stroke-width="0.22">Heterozygous CNV in each cancer</text>
<rect x="593.6" y="548.6" width="163.60000000000002" height="184.10000000000002" fill="#fff"/>
<line x1="675.3" y1="548.6" x2="675.3" y2="732.7" stroke="#a0a0a0" stroke-width="0.9" stroke-dasharray="1.4 2.2"/>
<line x1="593.1" y1="553.70" x2="757.2" y2="553.70" stroke="#a8a8a8" stroke-width="1.05" stroke-dasharray="2.5 2.34"/>
<line x1="593.1" y1="562.41" x2="757.2" y2="562.41" stroke="#a8a8a8" stroke-width="1.05" stroke-dasharray="2.5 2.34"/>
<line x1="593.1" y1="571.11" x2="757.2" y2="571.11" stroke="#a8a8a8" stroke-width="1.05" stroke-dasharray="2.5 2.34"/>
<line x1="593.1" y1="579.82" x2="757.2" y2="579.82" stroke="#a8a8a8" stroke-width="1.05" stroke-dasharray="2.5 2.34"/>
<line x1="593.1" y1="588.52" x2="757.2" y2="588.52" stroke="#a8a8a8" stroke-width="1.05" stroke-dasharray="2.5 2.34"/>
<line x1="593.1" y1="597.23" x2="757.2" y2="597.23" stroke="#a8a8a8" stroke-width="1.05" stroke-dasharray="2.5 2.34"/>
<line x1="593.1" y1="605.93" x2="757.2" y2="605.93" stroke="#a8a8a8" stroke-width="1.05" stroke-dasharray="2.5 2.34"/>
<line x1="593.1" y1="614.63" x2="757.2" y2="614.63" stroke="#a8a8a8" stroke-width="1.05" stroke-dasharray="2.5 2.34"/>
<line x1="593.1" y1="623.34" x2="757.2" y2="623.34" stroke="#a8a8a8" stroke-width="1.05" stroke-dasharray="2.5 2.34"/>
<line x1="593.1" y1="632.05" x2="757.2" y2="632.05" stroke="#a8a8a8" stroke-width="1.05" stroke-dasharray="2.5 2.34"/>
<line x1="593.1" y1="640.75" x2="757.2" y2="640.75" stroke="#a8a8a8" stroke-width="1.05" stroke-dasharray="2.5 2.34"/>
<line x1="593.1" y1="649.46" x2="757.2" y2="649.46" stroke="#a8a8a8" stroke-width="1.05" stroke-dasharray="2.5 2.34"/>
<line x1="593.1" y1="658.16" x2="757.2" y2="658.16" stroke="#a8a8a8" stroke-width="1.05" stroke-dasharray="2.5 2.34"/>
<line x1="593.1" y1="666.87" x2="757.2" y2="666.87" stroke="#a8a8a8" stroke-width="1.05" stroke-dasharray="2.5 2.34"/>
<line x1="593.1" y1="675.57" x2="757.2" y2="675.57" stroke="#a8a8a8" stroke-width="1.05" stroke-dasharray="2.5 2.34"/>
<line x1="593.1" y1="684.28" x2="757.2" y2="684.28" stroke="#a8a8a8" stroke-width="1.05" stroke-dasharray="2.5 2.34"/>
<line x1="593.1" y1="692.98" x2="757.2" y2="692.98" stroke="#a8a8a8" stroke-width="1.05" stroke-dasharray="2.5 2.34"/>
<line x1="593.1" y1="701.69" x2="757.2" y2="701.69" stroke="#a8a8a8" stroke-width="1.05" stroke-dasharray="2.5 2.34"/>
<line x1="593.1" y1="710.39" x2="757.2" y2="710.39" stroke="#a8a8a8" stroke-width="1.05" stroke-dasharray="2.5 2.34"/>
<line x1="593.1" y1="719.10" x2="757.2" y2="719.10" stroke="#a8a8a8" stroke-width="1.05" stroke-dasharray="2.5 2.34"/>
<line x1="593.1" y1="727.80" x2="757.2" y2="727.80" stroke="#a8a8a8" stroke-width="1.05" stroke-dasharray="2.5 2.34"/>
<rect x="593.6" y="548.6" width="163.60000000000002" height="184.10000000000002" fill="none" stroke="#3c3c3c" stroke-width="1.15"/>
<line x1="675.3" y1="732.7" x2="675.3" y2="735.6" stroke="#222" stroke-width="0.9"/>
<circle cx="673.78" cy="554.40" r="4.1" fill="#e0391b"/>
<circle cx="674.52" cy="562.76" r="2.1" fill="#e0391b"/>
<circle cx="674.49" cy="571.48" r="2.2" fill="#e0391b"/>
<circle cx="674.52" cy="580.17" r="2.1" fill="#e0391b"/>
<circle cx="673.82" cy="589.20" r="4.0" fill="#e0391b"/>
<circle cx="674.08" cy="597.79" r="3.3" fill="#e0391b"/>
<circle cx="674.19" cy="606.44" r="3.0" fill="#e0391b"/>
<circle cx="674.08" cy="615.20" r="3.3" fill="#e0391b"/>
<circle cx="674.49" cy="623.71" r="2.2" fill="#e0391b"/>
<circle cx="674.52" cy="632.40" r="2.1" fill="#e0391b"/>
<circle cx="674.49" cy="641.12" r="2.2" fill="#e0391b"/>
<circle cx="674.45" cy="649.85" r="2.3" fill="#e0391b"/>
<circle cx="674.41" cy="658.57" r="2.4" fill="#e0391b"/>
<circle cx="674.19" cy="667.38" r="3.0" fill="#e0391b"/>
<circle cx="674.23" cy="676.06" r="2.9" fill="#e0391b"/>
<circle cx="674.26" cy="684.75" r="2.8" fill="#e0391b"/>
<circle cx="674.38" cy="693.40" r="2.5" fill="#e0391b"/>
<circle cx="674.49" cy="702.06" r="2.2" fill="#e0391b"/>
<circle cx="674.19" cy="710.90" r="3.0" fill="#e0391b"/>
<circle cx="674.19" cy="719.61" r="3.0" fill="#e0391b"/>
<circle cx="674.19" cy="728.31" r="3.0" fill="#e0391b"/>
<text x="617.4" y="546.6" font-size="10.5" text-anchor="start" fill="#000" font-weight="bold" stroke="#000" stroke-width="0.3">Hetezygous amplification</text>
<text x="679.9" y="741.3" font-size="8.6" text-anchor="end" fill="#000" font-weight="bold" transform="rotate(-45 679.9 741.3)" stroke="#000" stroke-width="0.3">PRAD</text>
<rect x="762.4" y="548.6" width="163.0" height="184.10000000000002" fill="#fff"/>
<line x1="844.3" y1="548.6" x2="844.3" y2="732.7" stroke="#a0a0a0" stroke-width="0.9" stroke-dasharray="1.4 2.2"/>
<line x1="761.9" y1="553.70" x2="925.4" y2="553.70" stroke="#a8a8a8" stroke-width="1.05" stroke-dasharray="2.5 2.34"/>
<line x1="761.9" y1="562.41" x2="925.4" y2="562.41" stroke="#a8a8a8" stroke-width="1.05" stroke-dasharray="2.5 2.34"/>
<line x1="761.9" y1="571.11" x2="925.4" y2="571.11" stroke="#a8a8a8" stroke-width="1.05" stroke-dasharray="2.5 2.34"/>
<line x1="761.9" y1="579.82" x2="925.4" y2="579.82" stroke="#a8a8a8" stroke-width="1.05" stroke-dasharray="2.5 2.34"/>
<line x1="761.9" y1="588.52" x2="925.4" y2="588.52" stroke="#a8a8a8" stroke-width="1.05" stroke-dasharray="2.5 2.34"/>
<line x1="761.9" y1="597.23" x2="925.4" y2="597.23" stroke="#a8a8a8" stroke-width="1.05" stroke-dasharray="2.5 2.34"/>
<line x1="761.9" y1="605.93" x2="925.4" y2="605.93" stroke="#a8a8a8" stroke-width="1.05" stroke-dasharray="2.5 2.34"/>
<line x1="761.9" y1="614.63" x2="925.4" y2="614.63" stroke="#a8a8a8" stroke-width="1.05" stroke-dasharray="2.5 2.34"/>
<line x1="761.9" y1="623.34" x2="925.4" y2="623.34" stroke="#a8a8a8" stroke-width="1.05" stroke-dasharray="2.5 2.34"/>
<line x1="761.9" y1="632.05" x2="925.4" y2="632.05" stroke="#a8a8a8" stroke-width="1.05" stroke-dasharray="2.5 2.34"/>
<line x1="761.9" y1="640.75" x2="925.4" y2="640.75" stroke="#a8a8a8" stroke-width="1.05" stroke-dasharray="2.5 2.34"/>
<line x1="761.9" y1="649.46" x2="925.4" y2="649.46" stroke="#a8a8a8" stroke-width="1.05" stroke-dasharray="2.5 2.34"/>
<line x1="761.9" y1="658.16" x2="925.4" y2="658.16" stroke="#a8a8a8" stroke-width="1.05" stroke-dasharray="2.5 2.34"/>
<line x1="761.9" y1="666.87" x2="925.4" y2="666.87" stroke="#a8a8a8" stroke-width="1.05" stroke-dasharray="2.5 2.34"/>
<line x1="761.9" y1="675.57" x2="925.4" y2="675.57" stroke="#a8a8a8" stroke-width="1.05" stroke-dasharray="2.5 2.34"/>
<line x1="761.9" y1="684.28" x2="925.4" y2="684.28" stroke="#a8a8a8" stroke-width="1.05" stroke-dasharray="2.5 2.34"/>
<line x1="761.9" y1="692.98" x2="925.4" y2="692.98" stroke="#a8a8a8" stroke-width="1.05" stroke-dasharray="2.5 2.34"/>
<line x1="761.9" y1="701.69" x2="925.4" y2="701.69" stroke="#a8a8a8" stroke-width="1.05" stroke-dasharray="2.5 2.34"/>
<line x1="761.9" y1="710.39" x2="925.4" y2="710.39" stroke="#a8a8a8" stroke-width="1.05" stroke-dasharray="2.5 2.34"/>
<line x1="761.9" y1="719.10" x2="925.4" y2="719.10" stroke="#a8a8a8" stroke-width="1.05" stroke-dasharray="2.5 2.34"/>
<line x1="761.9" y1="727.80" x2="925.4" y2="727.80" stroke="#a8a8a8" stroke-width="1.05" stroke-dasharray="2.5 2.34"/>
<rect x="762.4" y="548.6" width="163.0" height="184.10000000000002" fill="none" stroke="#3c3c3c" stroke-width="1.15"/>
<line x1="844.3" y1="732.7" x2="844.3" y2="735.6" stroke="#222" stroke-width="0.9"/>
<circle cx="843.49" cy="554.07" r="2.2" fill="#2f63d6"/>
<circle cx="842.78" cy="563.10" r="4.1" fill="#2f63d6"/>
<circle cx="842.78" cy="571.81" r="4.1" fill="#2f63d6"/>
<circle cx="842.78" cy="580.51" r="4.1" fill="#2f63d6"/>
<circle cx="843.60" cy="588.84" r="1.9" fill="#2f63d6"/>
<circle cx="843.45" cy="597.62" r="2.3" fill="#2f63d6"/>
<circle cx="843.26" cy="606.41" r="2.8" fill="#2f63d6"/>
<circle cx="843.49" cy="615.01" r="2.2" fill="#2f63d6"/>
<circle cx="843.15" cy="623.87" r="3.1" fill="#2f63d6"/>
<circle cx="843.19" cy="632.56" r="3.0" fill="#2f63d6"/>
<circle cx="843.19" cy="641.26" r="3.0" fill="#2f63d6"/>
<circle cx="843.19" cy="649.97" r="3.0" fill="#2f63d6"/>
<circle cx="843.23" cy="658.65" r="2.9" fill="#2f63d6"/>
<circle cx="843.60" cy="667.19" r="1.9" fill="#2f63d6"/>
<circle cx="843.49" cy="675.94" r="2.2" fill="#2f63d6"/>
<circle cx="843.41" cy="684.68" r="2.4" fill="#2f63d6"/>
<circle cx="843.30" cy="693.44" r="2.7" fill="#2f63d6"/>
<circle cx="843.34" cy="702.13" r="2.6" fill="#2f63d6"/>
<circle cx="843.56" cy="710.73" r="2.0" fill="#2f63d6"/>
<circle cx="843.60" cy="719.42" r="1.9" fill="#2f63d6"/>
<circle cx="843.56" cy="728.14" r="2.0" fill="#2f63d6"/>
<text x="797.1" y="546.6" font-size="10.5" text-anchor="start" fill="#000" font-weight="bold" stroke="#000" stroke-width="0.3">Hetezygous deletion</text>
<text x="848.9" y="741.3" font-size="8.6" text-anchor="end" fill="#000" font-weight="bold" transform="rotate(-45 848.9 741.3)" stroke="#000" stroke-width="0.3">PRAD</text>
<line x1="590.8000000000001" y1="553.70" x2="593.6" y2="553.70" stroke="#111" stroke-width="0.95"/>
<text x="589.6" y="556.8" font-size="8.6" text-anchor="end" fill="#000" font-weight="bold" stroke="#000" stroke-width="0.3">CPA6</text>
<line x1="590.8000000000001" y1="562.41" x2="593.6" y2="562.41" stroke="#111" stroke-width="0.95"/>
<text x="589.6" y="565.51" font-size="8.6" text-anchor="end" fill="#000" font-weight="bold" stroke="#000" stroke-width="0.3">GNAO1</text>
<line x1="590.8000000000001" y1="571.11" x2="593.6" y2="571.11" stroke="#111" stroke-width="0.95"/>
<text x="589.6" y="574.21" font-size="8.6" text-anchor="end" fill="#000" font-weight="bold" stroke="#000" stroke-width="0.3">SLC14A1</text>
<line x1="590.8000000000001" y1="579.82" x2="593.6" y2="579.82" stroke="#111" stroke-width="0.95"/>
<text x="589.6" y="582.92" font-size="8.6" text-anchor="end" fill="#000" font-weight="bold" stroke="#000" stroke-width="0.3">LPCAT2</text>
<line x1="590.8000000000001" y1="588.52" x2="593.6" y2="588.52" stroke="#111" stroke-width="0.95"/>
<text x="589.6" y="591.62" font-size="8.6" text-anchor="end" fill="#000" font-weight="bold" stroke="#000" stroke-width="0.3">PDK4</text>
<line x1="590.8000000000001" y1="597.23" x2="593.6" y2="597.23" stroke="#111" stroke-width="0.95"/>
<text x="589.6" y="600.33" font-size="8.6" text-anchor="end" fill="#000" font-weight="bold" stroke="#000" stroke-width="0.3">OGN</text>
<line x1="590.8000000000001" y1="605.93" x2="593.6" y2="605.93" stroke="#111" stroke-width="0.95"/>
<text x="589.6" y="609.03" font-size="8.6" text-anchor="end" fill="#000" font-weight="bold" stroke="#000" stroke-width="0.3">QPRT</text>
<line x1="590.8000000000001" y1="614.63" x2="593.6" y2="614.63" stroke="#111" stroke-width="0.95"/>
<text x="589.6" y="617.74" font-size="8.6" text-anchor="end" fill="#000" font-weight="bold" stroke="#000" stroke-width="0.3">ST6GALNAC4</text>
<line x1="590.8000000000001" y1="623.34" x2="593.6" y2="623.34" stroke="#111" stroke-width="0.95"/>
<text x="589.6" y="626.44" font-size="8.6" text-anchor="end" fill="#000" font-weight="bold" stroke="#000" stroke-width="0.3">MEIS2</text>
<line x1="590.8000000000001" y1="632.05" x2="593.6" y2="632.05" stroke="#111" stroke-width="0.95"/>
<text x="589.6" y="635.15" font-size="8.6" text-anchor="end" fill="#000" font-weight="bold" stroke="#000" stroke-width="0.3">ALDH1A2</text>
<line x1="590.8000000000001" y1="640.75" x2="593.6" y2="640.75" stroke="#111" stroke-width="0.95"/>
<text x="589.6" y="643.85" font-size="8.6" text-anchor="end" fill="#000" font-weight="bold" stroke="#000" stroke-width="0.3">KRT15</text>
<line x1="590.8000000000001" y1="649.46" x2="593.6" y2="649.46" stroke="#111" stroke-width="0.95"/>
<text x="589.6" y="652.56" font-size="8.6" text-anchor="end" fill="#000" font-weight="bold" stroke="#000" stroke-width="0.3">TGFB3</text>
<line x1="590.8000000000001" y1="658.16" x2="593.6" y2="658.16" stroke="#111" stroke-width="0.95"/>
<text x="589.6" y="661.26" font-size="8.6" text-anchor="end" fill="#000" font-weight="bold" stroke="#000" stroke-width="0.3">PAQR8</text>
<line x1="590.8000000000001" y1="666.87" x2="593.6" y2="666.87" stroke="#111" stroke-width="0.95"/>
<text x="589.6" y="669.97" font-size="8.6" text-anchor="end" fill="#000" font-weight="bold" stroke="#000" stroke-width="0.3">KCTD14</text>
<line x1="590.8000000000001" y1="675.57" x2="593.6" y2="675.57" stroke="#111" stroke-width="0.95"/>
<text x="589.6" y="678.67" font-size="8.6" text-anchor="end" fill="#000" font-weight="bold" stroke="#000" stroke-width="0.3">PTGIS</text>
<line x1="590.8000000000001" y1="684.28" x2="593.6" y2="684.28" stroke="#111" stroke-width="0.95"/>
<text x="589.6" y="687.38" font-size="8.6" text-anchor="end" fill="#000" font-weight="bold" stroke="#000" stroke-width="0.3">SPON1</text>
<line x1="590.8000000000001" y1="692.98" x2="593.6" y2="692.98" stroke="#111" stroke-width="0.95"/>
<text x="589.6" y="696.08" font-size="8.6" text-anchor="end" fill="#000" font-weight="bold" stroke="#000" stroke-width="0.3">SMIM10</text>
<line x1="590.8000000000001" y1="701.69" x2="593.6" y2="701.69" stroke="#111" stroke-width="0.95"/>
<text x="589.6" y="704.79" font-size="8.6" text-anchor="end" fill="#000" font-weight="bold" stroke="#000" stroke-width="0.3">ZNF185</text>
<line x1="590.8000000000001" y1="710.39" x2="593.6" y2="710.39" stroke="#111" stroke-width="0.95"/>
<text x="589.6" y="713.49" font-size="8.6" text-anchor="end" fill="#000" font-weight="bold" stroke="#000" stroke-width="0.3">GSTP1</text>
<line x1="590.8000000000001" y1="719.10" x2="593.6" y2="719.10" stroke="#111" stroke-width="0.95"/>
<text x="589.6" y="722.2" font-size="8.6" text-anchor="end" fill="#000" font-weight="bold" stroke="#000" stroke-width="0.3">ANO1</text>
<line x1="590.8000000000001" y1="727.80" x2="593.6" y2="727.80" stroke="#111" stroke-width="0.95"/>
<text x="589.6" y="730.9" font-size="8.6" text-anchor="end" fill="#000" font-weight="bold" stroke="#000" stroke-width="0.3">CA14</text>
<text x="526.7" y="639.2" font-size="10.5" text-anchor="middle" fill="#000" font-weight="bold" transform="rotate(-90 526.7 639.2)" stroke="#000" stroke-width="0.3">Symbol</text>
<text x="761.5" y="770.3" font-size="10.4" text-anchor="middle" fill="#000" font-weight="bold" stroke="#000" stroke-width="0.3">Cancer type</text>
<text x="941.0" y="587.1" font-size="10.4" text-anchor="start" fill="#000" font-weight="bold" stroke="#000" stroke-width="0.3">SCNA type</text>
<circle cx="947.6" cy="601.5" r="1.45" fill="#2f63d6"/>
<circle cx="947.6" cy="616.8" r="1.45" fill="#e0391b"/>
<text x="961.3" y="604.2" font-size="8.6" text-anchor="start" fill="#000" font-weight="bold" stroke="#000" stroke-width="0.3">Deletion</text>
<text x="961.3" y="619.4" font-size="8.6" text-anchor="start" fill="#000" font-weight="bold" stroke="#000" stroke-width="0.3">Amplification</text>
<text x="941.0" y="651.4" font-size="10.3" text-anchor="start" fill="#000" font-weight="bold" stroke="#000" stroke-width="0.3">CNV (%)</text>
<circle cx="947.4" cy="666.0" r="1.9" fill="#000"/>
<text x="961.3" y="668.7" font-size="8.6" text-anchor="start" fill="#000" font-weight="bold" stroke="#000" stroke-width="0.3">1</text>
<circle cx="947.0" cy="681.4" r="3.3" fill="#000"/>
<text x="961.3" y="683.9" font-size="8.6" text-anchor="start" fill="#000" font-weight="bold" stroke="#000" stroke-width="0.3">12</text>
<circle cx="946.7" cy="696.7" r="4.2" fill="#000"/>
<text x="961.3" y="699.2" font-size="8.6" text-anchor="start" fill="#000" font-weight="bold" stroke="#000" stroke-width="0.3">23</text>
</svg>
</body></html>
